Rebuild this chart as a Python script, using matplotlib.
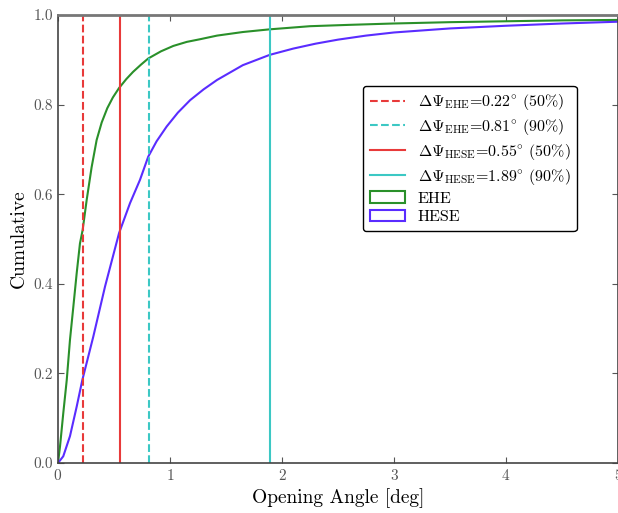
import matplotlib
matplotlib.use("Agg")
import matplotlib.pyplot as plt
from matplotlib.patches import Patch
from matplotlib.lines import Line2D

# === 1. Fonts: Computer Modern look ===
plt.rcParams['font.family'] = ['cmr10', 'DejaVu Serif']
plt.rcParams['mathtext.fontset'] = 'cm'
plt.rcParams['axes.formatter.use_mathtext'] = True
plt.rcParams['axes.unicode_minus'] = False

# === 2. Data ===
ehe_x = [0.0, 0.018, 0.047, 0.078, 0.107, 0.137, 0.167, 0.196, 0.22, 0.256, 0.30,
         0.345, 0.39, 0.44, 0.49, 0.545, 0.61, 0.67, 0.74, 0.806, 0.92, 1.03,
         1.15, 1.27, 1.42, 1.65, 1.89, 2.25, 2.6, 2.99, 3.5, 4.0, 4.5, 5.0]
ehe_y = [0.0, 0.037, 0.111, 0.185, 0.275, 0.349, 0.424, 0.49, 0.52, 0.587, 0.66,
         0.721, 0.76, 0.792, 0.816, 0.837, 0.857, 0.873, 0.889, 0.903, 0.919, 0.931,
         0.940, 0.946, 0.954, 0.962, 0.968, 0.975, 0.978, 0.981, 0.984, 0.986, 0.988, 0.989]

hese_x = [0.0, 0.047, 0.107, 0.167, 0.217, 0.315, 0.42, 0.545, 0.643, 0.732, 0.806,
          0.88, 0.97, 1.07, 1.18, 1.3, 1.42, 1.65, 1.89, 2.1, 2.3, 2.5, 2.75, 3.0,
          3.5, 4.0, 4.5, 5.0]
hese_y = [0.0, 0.015, 0.06, 0.126, 0.185, 0.282, 0.394, 0.513, 0.58, 0.632, 0.684,
          0.718, 0.751, 0.782, 0.81, 0.834, 0.855, 0.888, 0.911, 0.925, 0.936, 0.945,
          0.954, 0.961, 0.970, 0.976, 0.981, 0.985]

ehe_50, ehe_90 = 0.22, 0.81
hese_50, hese_90 = 0.55, 1.89

green = '#2a902a'
blue = '#5a2cff'
red = '#e83a3a'
cyan = '#3cc8c4'

# === 3. Plot ===
fig = plt.figure(figsize=(6.18, 5.13), dpi=100)
ax = fig.add_axes([58 / 618, 50 / 513, 560 / 618, 448 / 513])

ax.plot(ehe_x, ehe_y, color=green, lw=1.5)
ax.plot(hese_x, hese_y, color=blue, lw=1.5)

ax.axvline(ehe_50, color=red, ls='--', lw=1.5)
ax.axvline(ehe_90, color=cyan, ls='--', lw=1.5)
ax.axvline(hese_50, color=red, ls='-', lw=1.5)
ax.axvline(hese_90, color=cyan, ls='-', lw=1.5)

# === 4. Format ===
ax.set_xlim(0, 5)
ax.set_ylim(0, 1)
ax.set_xticks([0, 1, 2, 3, 4, 5])
ax.set_yticks([0.0, 0.2, 0.4, 0.6, 0.8, 1.0])
ax.set_yticklabels(['0.0', '0.2', '0.4', '0.6', '0.8', '1.0'])
ax.tick_params(direction='in', top=True, right=True, labelsize=11,
               labelcolor='#555555', color='#555555', length=4)
for s in ax.spines.values():
    s.set_color('#444444')
    s.set_linewidth(1.2)
ax.spines['top'].set_color('#777777')
ax.spines['top'].set_linewidth(2)

ax.set_xlabel('Opening Angle [deg]', fontsize=14)
ax.set_ylabel('Cumulative', fontsize=14)

handles = [
    Line2D([], [], color=red, ls='--', lw=1.5),
    Line2D([], [], color=cyan, ls='--', lw=1.5),
    Line2D([], [], color=red, ls='-', lw=1.5),
    Line2D([], [], color=cyan, ls='-', lw=1.5),
    Patch(facecolor='none', edgecolor=green, lw=1.5),
    Patch(facecolor='none', edgecolor=blue, lw=1.5),
]
labels = [
    r'$\Delta\Psi_{\rm EHE}$=%.2f$^{\circ}$ (50%%)' % ehe_50,
    r'$\Delta\Psi_{\rm EHE}$=%.2f$^{\circ}$ (90%%)' % ehe_90,
    r'$\Delta\Psi_{\rm HESE}$=%.2f$^{\circ}$ (50%%)' % hese_50,
    r'$\Delta\Psi_{\rm HESE}$=%.2f$^{\circ}$ (90%%)' % hese_90,
    'EHE',
    'HESE',
]
leg = ax.legend(handles, labels, loc='upper left', bbox_to_anchor=(0.545, 0.842),
                borderaxespad=0, fontsize=11.5, frameon=True, fancybox=True,
                framealpha=1, edgecolor='black', labelspacing=0.3,
                handletextpad=0.8, handlelength=2.2)
leg.get_frame().set_linewidth(1.0)

fig.savefig('out.png', dpi=100)
